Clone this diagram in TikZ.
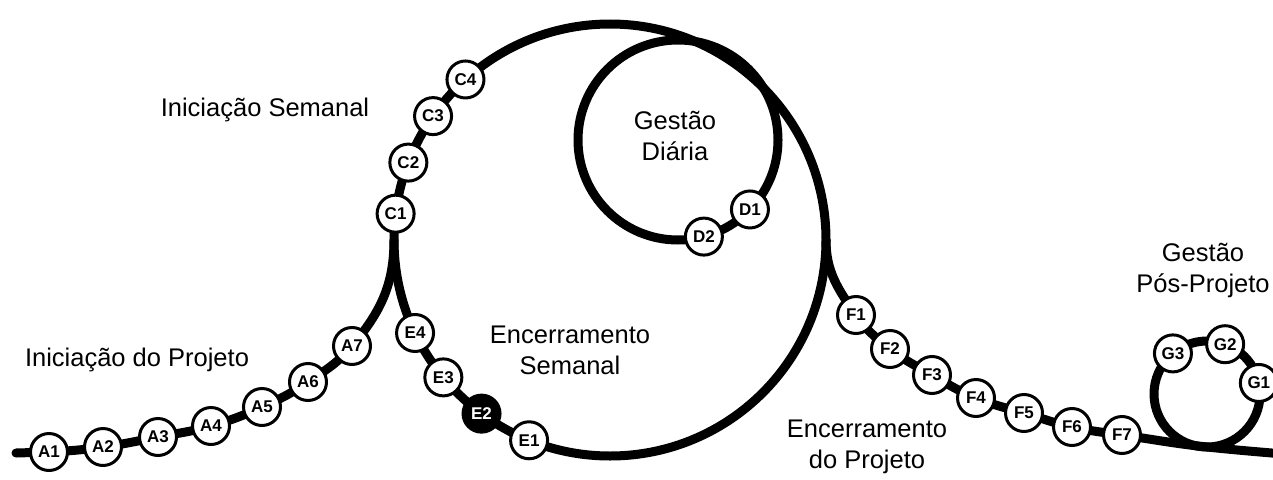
\documentclass[tikz,border=0pt]{standalone}
\usepackage{fontspec}
\setmainfont{Liberation Sans}
\usetikzlibrary{backgrounds}
\tikzset{
  station/.style={circle,draw,line width=3pt,fill=white,minimum size=37pt,inner sep=0pt,
    font=\bfseries\fontsize{17}{17}\selectfont},
  track/.style={line width=9pt,line cap=round},
  phase/.style={align=center,font=\fontsize{25.5}{31}\selectfont}
}
\begin{document}
\begin{tikzpicture}[x=1pt,y=1pt]
        \useasboundingbox (0,0) rectangle (1273,-479);

        \coordinate (start) at (16,-453);
        \node (A1) at (49,-452) [station] {A1};
        \node (A2) at (103,-447) [station] {A2};
        \node (A3) at (158,-437) [station] {A3};
        \node (A4) at (211,-426) [station] {A4};
        \node (A5) at (262,-407) [station] {A5};
        \node (A6) at (308,-382) [station] {A6};
        \node (A7) at (352,-346) [station] {A7};

        \coordinate (week) at (610,-240);
        \coordinate (j1) at (394,-240);
        \coordinate (j2) at (826,-240);
        \begin{scope}[shift={(610,-240)}]
          \node (C1) at (173:216) [station] {C1};
          \node (C2) at (159:216) [station] {C2};
          \node (C3) at (145:216) [station] {C3};
          \node (C4) at (132:216) [station] {C4};
          \node (E1) at (248:216) [station] {E1};
          \node (E2) at (233.5:216) [station,fill=black,text=white] {E2};
          \node (E3) at (219.5:216) [station] {E3};
          \node (E4) at (205.5:216) [station] {E4};
        \end{scope}

        \coordinate (day) at (678,-140);
        \begin{scope}[shift={(678,-140)}]
          \node (D1) at (-44:100) [station] {D1};
          \node (D2) at (-75:100) [station] {D2};
        \end{scope}

        \node (F1) at (856,-315) [station] {F1};
        \node (F2) at (890,-349) [station] {F2};
        \node (F3) at (932,-375) [station] {F3};
        \node (F4) at (976,-398) [station] {F4};
        \node (F5) at (1024,-413) [station] {F5};
        \node (F6) at (1072,-427) [station] {F6};
        \node (F7) at (1122,-435) [station] {F7};

        \coordinate (post) at (1207,-394);
        \coordinate (gb) at (1207,-447);
        \coordinate (end) at (1295,-455);
        \begin{scope}[shift={(1207,-394)}]
          \node (G1) at (12:53) [station] {G1};
          \node (G2) at (70:53) [station] {G2};
          \node (G3) at (130:53) [station] {G3};
        \end{scope}

        \begin{scope}[on background layer]
          \draw[track] (week) circle (216);
          \draw[track] (day) circle (100);
          \draw[track] (post) circle (53);
          \draw[track] (start) to[out=2,in=183] (A1.center)
            to[out=3,in=188] (A2.center) to[out=8,in=191] (A3.center)
            to[out=11,in=196] (A4.center) to[out=16,in=204] (A5.center)
            to[out=24,in=214] (A6.center) to[out=34,in=230] (A7.center)
            to[out=50,in=-90] (j1);
          \draw[track] (j2) to[out=-90,in=125] (F1.center)
            to[out=-55,in=142] (F2.center) to[out=-38,in=150] (F3.center)
            to[out=-30,in=158] (F4.center) to[out=-22,in=164] (F5.center)
            to[out=-16,in=168] (F6.center) to[out=-12,in=172] (F7.center)
            to[out=-8,in=174] (gb) to[out=-6,in=175] (end);
        \end{scope}

        \node (initproj) at (137,-360) [phase] {Iniciação do Projeto};
        \node (initweek) at (265,-110) [phase] {Iniciação Semanal};
        \node (daily) at (675,-136) [phase] {Gestão\\Diária};
        \node (closeweek) at (570,-350) [phase] {Encerramento\\Semanal};
        \node (closeproj) at (867,-447) [phase] {Encerramento\\do Projeto};
        \node (postproj) at (1203,-270) [phase] {Gestão\\Pós-Projeto};
      \end{tikzpicture}
\end{document}
